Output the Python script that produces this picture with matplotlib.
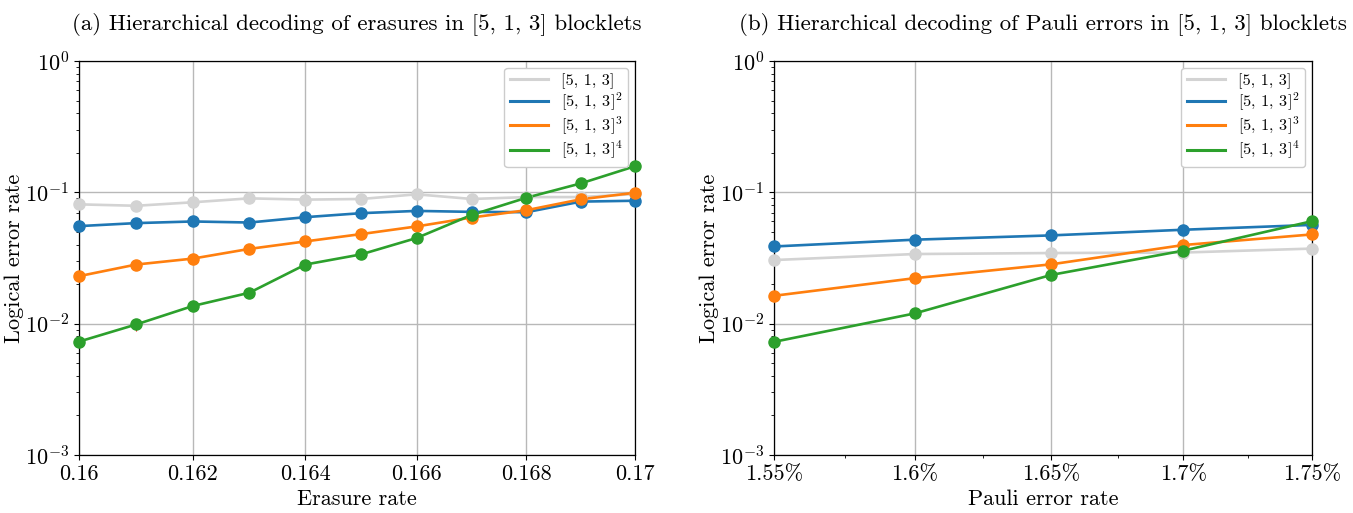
import matplotlib
matplotlib.use("Agg")
import matplotlib.pyplot as plt
from matplotlib.ticker import FixedLocator, FixedFormatter, NullLocator, NullFormatter

plt.rcParams['font.family'] = ['cmr10', 'DejaVu Serif']
plt.rcParams['mathtext.fontset'] = 'cm'
plt.rcParams['axes.formatter.use_mathtext'] = True
plt.rcParams['axes.unicode_minus'] = False

# ---------- data: (a) erasures ----------
erasure_rate = [0.160, 0.161, 0.162, 0.163, 0.164, 0.165, 0.166, 0.167, 0.168, 0.169, 0.170]
er_L1 = [0.081, 0.079, 0.084, 0.090, 0.088, 0.089, 0.0966, 0.089, 0.092, 0.092, 0.097]
er_L2 = [0.0553, 0.0583, 0.0600, 0.0589, 0.0647, 0.0694, 0.0722, 0.0710, 0.0706, 0.0850, 0.0863]
er_L3 = [0.0230, 0.0282, 0.0313, 0.0371, 0.0423, 0.0481, 0.0550, 0.0643, 0.0731, 0.0885, 0.0993]
er_L4 = [0.00730, 0.00986, 0.01364, 0.0172, 0.0282, 0.0337, 0.0449, 0.0673, 0.0910, 0.1170, 0.158]
er_L4_err = [0.0007, 0.0010, 0.0012, 0.0012, 0.0014, 0.0015, 0.0017, 0.0019, 0.0020, 0.0020, 0.0020]
erasure_ticks = [0.160, 0.162, 0.164, 0.166, 0.168, 0.170]
erasure_ticklabels = ["0.16", "0.162", "0.164", "0.166", "0.168", "0.17"]

# ---------- data: (b) Pauli ----------
pauli_rate = [0.0155, 0.0160, 0.0165, 0.0170, 0.0175]
pa_L1 = [0.0305, 0.0339, 0.0345, 0.0348, 0.0373]
pa_L2 = [0.0387, 0.0436, 0.0470, 0.0519, 0.0565]
pa_L3 = [0.0163, 0.0222, 0.0283, 0.0397, 0.0478]
pa_L4 = [0.00727, 0.01197, 0.0235, 0.0360, 0.0603]
pauli_ticks = [0.0155, 0.0160, 0.0165, 0.0170, 0.0175]
pauli_ticklabels = ["1.55%", "1.6%", "1.65%", "1.7%", "1.75%"]
pauli_minor = [0.01575, 0.01625, 0.01675, 0.01725]

labels = ["[5, 1, 3]", "[5, 1, 3]$^2$", "[5, 1, 3]$^3$", "[5, 1, 3]$^4$"]
colors = ["#d3d3d3", "#1f77b4", "#ff7f0e", "#2ca02c"]

fig = plt.figure(figsize=(13.53, 5.13), dpi=100)
axA = fig.add_axes([79/1353, 58/513, 556/1353, 394/513])
axB = fig.add_axes([774/1353, 58/513, 538/1353, 394/513])

def style(ax):
    ax.set_yscale('log')
    ax.set_xscale('log')
    ax.set_ylim(1e-3, 1)
    ax.grid(True, which='major', color='#b8b8b8', linewidth=1.0)
    ax.set_axisbelow(True)
    ax.tick_params(labelsize=16)
    for s in ax.spines.values():
        s.set_linewidth(0.9)

def draw(ax, x, series, title, xlabel):
    style(ax)
    handles = []
    for ys, lab, c in zip(series, labels, colors):
        ax.plot(x, ys, '-', color=c, lw=1.9, zorder=3, clip_on=False)
        ax.plot(x, ys, 'o', color=c, ms=8, zorder=3.5, clip_on=False)
        h, = ax.plot([], [], '-', color=c, lw=2.2, label=lab)
        handles.append(h)
    ax.set_xlabel(xlabel, fontsize=16)
    ax.set_ylabel("Logical error rate", fontsize=16, labelpad=1)
    ax.set_title(title, fontsize=16.5, pad=22)
    ax.legend(handles=handles, loc='upper right', fontsize=11.8, framealpha=1,
              edgecolor='#cccccc', borderaxespad=0.4, labelspacing=0.12,
              borderpad=0.35, handlelength=2.3)

# panel a
draw(axA, erasure_rate, [er_L1, er_L2, er_L3, er_L4],
     "(a) Hierarchical decoding of erasures in [5, 1, 3] blocklets", "Erasure rate")
axA.errorbar(erasure_rate, er_L4, yerr=er_L4_err, fmt='none', ecolor='red', elinewidth=0.8, zorder=2)
axA.set_xlim(0.160, 0.170)
axA.xaxis.set_major_locator(FixedLocator(erasure_ticks))
axA.xaxis.set_major_formatter(FixedFormatter(erasure_ticklabels))
axA.xaxis.set_minor_locator(NullLocator())
axA.xaxis.set_minor_formatter(NullFormatter())

# panel b
draw(axB, pauli_rate, [pa_L1, pa_L2, pa_L3, pa_L4],
     "(b) Hierarchical decoding of Pauli errors in [5, 1, 3] blocklets", "Pauli error rate")
axB.set_xlim(0.0155, 0.0175)
axB.xaxis.set_major_locator(FixedLocator(pauli_ticks))
axB.xaxis.set_major_formatter(FixedFormatter(pauli_ticklabels))
axB.xaxis.set_minor_locator(FixedLocator(pauli_minor))
axB.xaxis.set_minor_formatter(NullFormatter())

fig.savefig("out.png", dpi=100)
